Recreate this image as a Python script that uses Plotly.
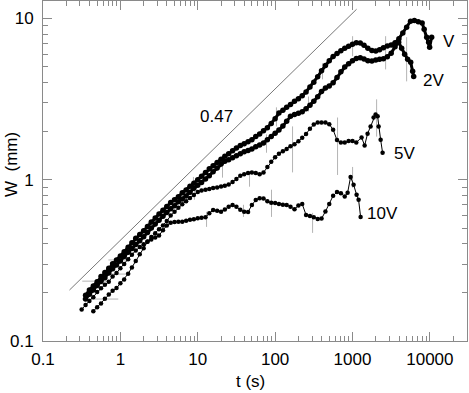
import numpy as np
import plotly.graph_objects as go

# time grid of the sampled points (s)
t_grid = [0.316, 0.355, 0.398, 0.447, 0.501, 0.562, 0.631, 0.708, 0.794, 0.891,
          1.0, 1.12, 1.26, 1.41, 1.58, 1.78, 2.0, 2.24, 2.51, 2.82,
          3.16, 3.55, 3.98, 4.47, 5.01, 5.62, 6.31, 7.08, 7.94, 8.91,
          10, 11.2, 12.6, 14.1, 15.8, 17.8, 20, 22.4, 25.1, 28.2,
          31.6, 35.5, 39.8, 44.7, 50.1, 56.2, 63.1, 70.8, 79.4, 89.1,
          100, 112, 126, 141, 158, 178, 200, 224, 251, 282,
          316, 355, 398, 447, 501, 562, 631, 708, 794, 891,
          1000, 1120, 1260, 1410, 1580, 1780, 2000, 2240, 2510, 2820,
          3160, 3550, 3980, 4470, 5010, 5620, 6310, 7080, 7940, 8910,
          10000]

# W (mm) for each voltage
w_V = [0.192, 0.207, 0.219, 0.233, 0.251, 0.266, 0.283, 0.301, 0.318, 0.337,
       0.358, 0.381, 0.406, 0.433, 0.457, 0.483, 0.513, 0.547, 0.578, 0.612,
       0.646, 0.683, 0.721, 0.752, 0.784, 0.829, 0.864, 0.912, 0.951, 1.00,
       1.05, 1.11, 1.17, 1.22, 1.28, 1.34, 1.40, 1.45, 1.51, 1.57,
       1.63, 1.67, 1.72, 1.77, 1.85, 1.92, 2.01, 2.10, 2.23, 2.39,
       2.59, 2.70, 2.81, 2.93, 3.06, 3.18, 3.32, 3.50, 3.75, 4.02,
       4.35, 4.73, 5.11, 5.46, 5.80, 6.07, 6.31, 6.53, 6.73, 6.92,
       7.06, 7.03, 6.81, 6.53, 6.32, 6.28, 6.40, 6.58, 6.75, 6.85,
       7.07, 7.49, 8.13, 8.83, 9.60, 9.72, 9.53, 9.38,
       8.57, 7.65, 7.12, 6.63, 7.65]
t_V_tail = [8440, 9100, 9640, 9930, 10550]

w_2V = [0.182, 0.195, 0.207, 0.221, 0.234, 0.247, 0.264, 0.281, 0.296, 0.313,
        0.334, 0.355, 0.375, 0.397, 0.419, 0.443, 0.471, 0.502, 0.531, 0.561,
        0.593, 0.627, 0.661, 0.690, 0.730, 0.760, 0.793, 0.837, 0.884, 0.923,
        0.962, 1.01, 1.06, 1.12, 1.18, 1.25, 1.30, 1.33, 1.37, 1.41,
        1.45, 1.49, 1.52, 1.55, 1.60, 1.64, 1.69, 1.77, 1.85, 1.94,
        2.03, 2.15, 2.30, 2.47, 2.54, 2.58, 2.64, 2.75, 2.90, 3.07,
        3.27, 3.52, 3.70, 3.81, 3.99, 4.30, 4.67, 4.99, 5.24, 5.46,
        5.65, 5.71, 5.60, 5.47, 5.45, 5.52, 5.58, 5.62, 5.78, 6.08, 6.68,
        7.12, 6.53, 5.99, 5.58, 5.35, 4.70, 4.37]
t_2V_tail = [3950, 4320, 4720, 5160, 5650, 5990, 6180]

w_5V = [0.153, 0.162, 0.171, 0.183, 0.194, 0.205, 0.213, 0.228,
        0.241, 0.261, 0.286, 0.313, 0.345, 0.376, 0.412, 0.441, 0.466, 0.493,
        0.521, 0.554, 0.599, 0.633, 0.669, 0.704, 0.736, 0.769, 0.803, 0.840,
        0.857, 0.867, 0.877, 0.887, 0.896, 0.906, 0.916, 0.935, 0.968, 1.01,
        1.06, 1.08, 1.10, 1.11, 1.10, 1.08, 1.11, 1.20, 1.29, 1.38,
        1.45, 1.50, 1.55, 1.61, 1.66, 1.73, 1.82, 1.92, 2.07, 2.20,
        2.26, 2.26, 2.26, 2.21, 2.04, 1.76, 1.70, 1.70, 1.74, 1.74, 1.70,
        1.83, 1.63, 1.93, 2.14, 2.43, 2.54, 2.47, 2.14, 1.77, 1.47]
t_5V_tail = [1310, 1435, 1567, 1715, 1875, 1990, 2113, 2177, 2311, 2449]

w_10V = [0.157, 0.167, 0.177, 0.187, 0.201, 0.212, 0.223, 0.233, 0.251, 0.264, 0.283,
         0.300, 0.321, 0.343, 0.364, 0.382, 0.398, 0.414, 0.426, 0.438, 0.451,
         0.486, 0.520, 0.541, 0.546, 0.548, 0.549, 0.556, 0.564, 0.569, 0.576,
         0.580, 0.586, 0.619, 0.649, 0.642, 0.634, 0.653, 0.680, 0.698, 0.679,
         0.651, 0.633, 0.630, 0.697, 0.748, 0.768, 0.764, 0.735, 0.719, 0.717,
         0.708, 0.699, 0.698, 0.679, 0.657, 0.692, 0.706, 0.605, 0.596, 0.586,
         0.571, 0.574, 0.635, 0.706, 0.795, 0.838, 0.824, 0.786,
         0.830, 1.04, 0.931, 0.807, 0.751, 0.588]
t_10V_tail = [865, 945, 1033, 1130, 1199, 1273]

# vertical error bars (t, low, high)
err_t = [2.30, 8.80, 104, 410, 1003, 2680, 20.9, 77.4, 270, 5010,
         46.7, 168, 641, 2050, 9.06, 13.0, 39.0, 89.8, 305, 1003]
err_lo = [0.475, 0.867, 2.14, 4.19, 5.83, 4.83, 1.03, 1.47, 2.65, 4.07,
          0.905, 1.11, 1.07, 1.85, 0.751, 0.510, 0.588, 0.588, 0.468, 0.892]
err_hi = [0.548, 1.04, 2.81, 5.27, 7.76, 7.76, 1.33, 1.91, 3.28, 7.65,
          1.12, 2.14, 2.43, 3.15, 0.867, 0.632, 0.699, 0.867, 0.623, 1.20]

# horizontal error bars on the first points (W, t low, t high)
herr_w = [0.318, 0.260, 0.235, 0.182]
herr_lo = [0.70, 0.70, 0.322, 0.322]
herr_hi = [1.35, 1.35, 0.70, 0.94]

# power-law guide, slope 0.47
ref_t = [0.22, 1130]
ref_w = [0.207, 11.4]

series = [
    ("V", t_grid[1:89] + t_V_tail, w_V, 5.5, 3),
    ("2V", t_grid[1:82] + t_2V_tail, w_2V, 5.5, 3),
    ("5V", t_grid[3:72] + t_5V_tail, w_5V, 4.5, 1),
    ("10V", t_grid[0:69] + t_10V_tail, w_10V, 4.5, 1),
]

labels = [("0.47", 17.5, 2.47), ("V", 17500, 7.22), ("2V", 11200, 4.13),
          ("5V", 4720, 1.45), ("10V", 2450, 0.614)]

FONT = "Liberation Sans, Arial, sans-serif"
GRAY = "#8a8a8a"
BAR = "#b4b4b4"

fig = go.Figure()

# error bars first so the data sit on top
c = np.sqrt(np.array(err_lo) * np.array(err_hi))
fig.add_trace(go.Scatter(
    x=err_t, y=c, mode="markers",
    marker=dict(size=1, color="rgba(0,0,0,0)"),
    error_y=dict(type="data", symmetric=False,
                 array=np.array(err_hi) - c, arrayminus=c - np.array(err_lo),
                 color=BAR, thickness=1, width=0),
    showlegend=False, hoverinfo="skip"))

hc = np.sqrt(np.array(herr_lo) * np.array(herr_hi))
fig.add_trace(go.Scatter(
    x=hc, y=herr_w, mode="markers",
    marker=dict(size=1, color="rgba(0,0,0,0)"),
    error_x=dict(type="data", symmetric=False,
                 array=np.array(herr_hi) - hc, arrayminus=hc - np.array(herr_lo),
                 color=BAR, thickness=1, width=0),
    showlegend=False, hoverinfo="skip"))

fig.add_trace(go.Scatter(x=ref_t, y=ref_w, mode="lines",
                         line=dict(color="#555555", width=0.8),
                         showlegend=False))

for name, t, w, msize, lw in series:
    fig.add_trace(go.Scatter(
        x=t, y=w, mode="lines+markers", name=name,
        line=dict(color="black", width=lw),
        marker=dict(color="black", size=msize),
        showlegend=False))

for text, tx, wy in labels:
    fig.add_annotation(x=np.log10(tx), y=np.log10(wy), text=text,
                       showarrow=False, xanchor="center", yanchor="middle",
                       font=dict(size=17, color="black"))

fig.add_annotation(xref="paper", yref="paper", x=0.49, y=-0.118,
                   xanchor="center", yanchor="middle",
                   text="t (s)", showarrow=False,
                   font=dict(size=17, color="black"))
fig.add_annotation(xref="paper", yref="paper", x=-0.076, y=0.52,
                   xanchor="center", yanchor="middle",
                   text="W  (mm)", showarrow=False, textangle=-90,
                   font=dict(size=17, color="black"))

x_major = [0.1, 1, 10, 100, 1000, 10000]
y_major = [0.1, 1, 10]
x_minor = [m * d for d in [0.1, 1, 10, 100, 1000, 10000] for m in range(2, 10)]
y_minor = [m * d for d in [0.1, 1, 10] for m in range(2, 10)]

axis_common = dict(type="log", showgrid=False, zeroline=False,
                   showline=True, linecolor=GRAY, linewidth=1, mirror="allticks",
                   ticks="inside", ticklen=9, tickcolor=GRAY, tickwidth=1,
                   tickfont=dict(size=17, color="black"))

fig.update_xaxes(range=[-1, 4.48], tickmode="array", tickvals=x_major,
                 ticktext=["0.1", "1", "10", "100", "1000", "10000"],
                 ticklabelstandoff=3,
                 minor=dict(tickmode="array", tickvals=x_minor, ticks="inside",
                            ticklen=5, tickcolor=GRAY, showgrid=False),
                 **axis_common)
fig.update_yaxes(range=[-1, 1.108], tickmode="array", tickvals=y_major,
                 ticktext=["0.1", "1", "10"],
                 ticklabelstandoff=5,
                 minor=dict(tickmode="array", tickvals=y_minor, ticks="inside",
                            ticklen=5, tickcolor=GRAY, showgrid=False),
                 **axis_common)

fig.update_layout(
    width=469, height=393,
    margin=dict(l=43, r=2, t=1, b=52),
    paper_bgcolor="white", plot_bgcolor="white",
    font=dict(family=FONT, size=17, color="black"),
)

# drop the browser's default page margin so the figure sits at the window corner
fig.write_html("out.html", config={"displayModeBar": False},
               post_script="document.body.style.margin='0px';")
